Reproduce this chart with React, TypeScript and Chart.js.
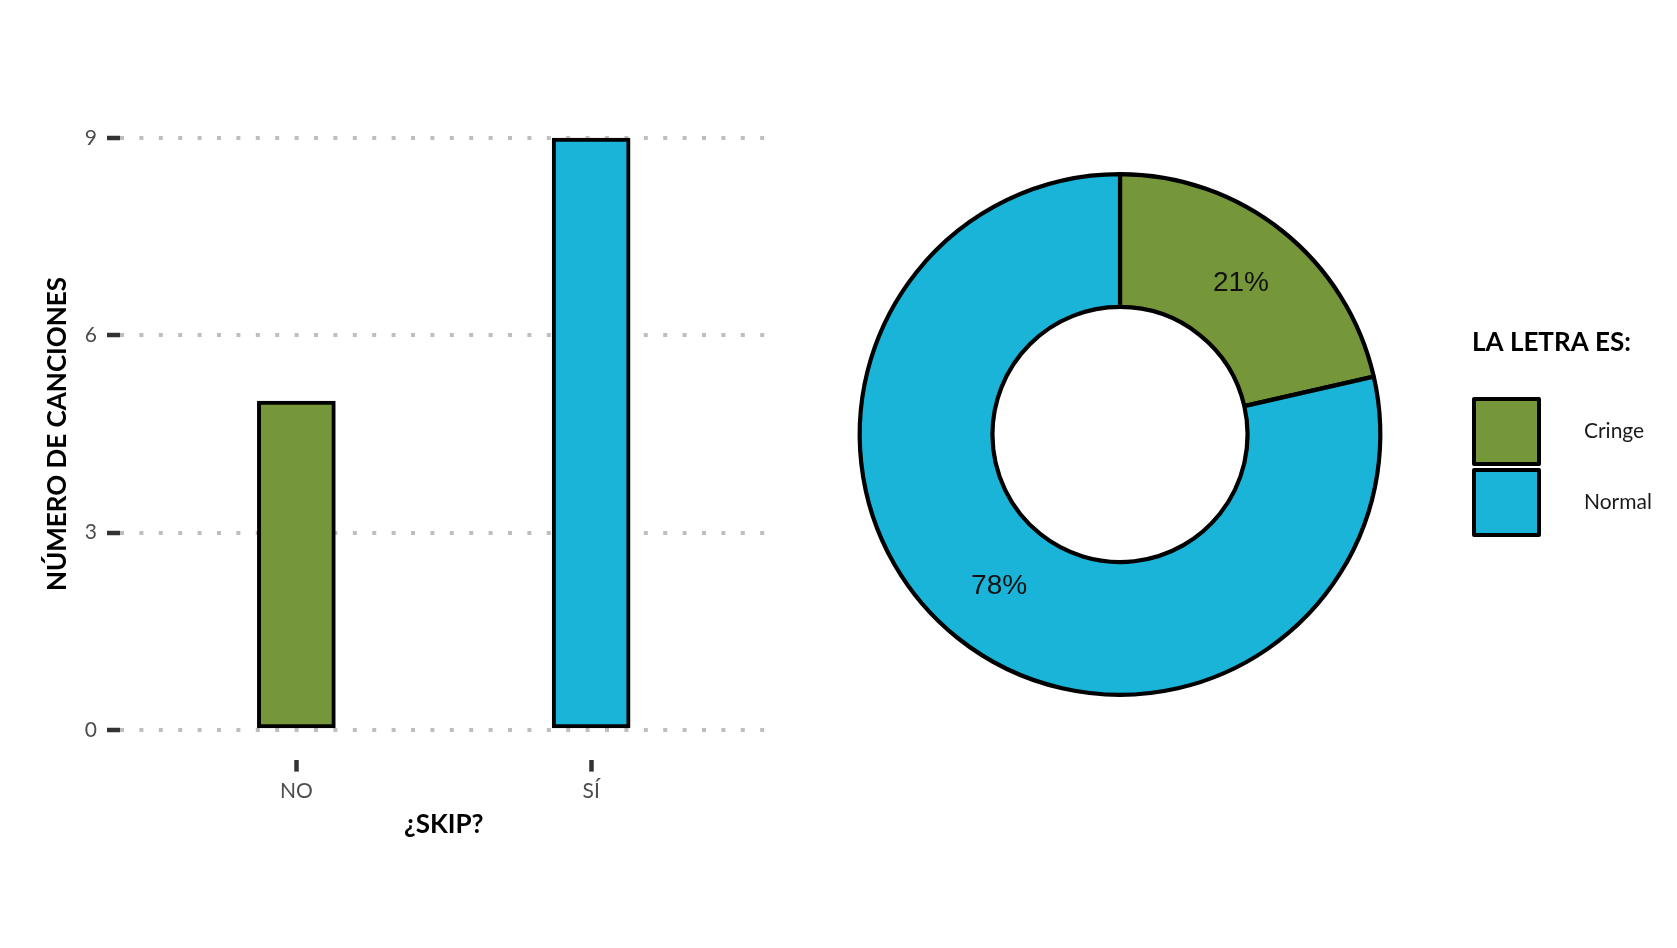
import { useEffect, useRef } from "react";
import { Chart, registerables } from "chart.js";

Chart.register(...registerables);

// ---- data ----
const skipCategories = ["NO", "SÍ"];
const songCounts = [5, 9];
const yTickValues = [0, 3, 6, 9];
const lyricLabels = ["Cringe", "Normal"];
const lyricCounts = [3, 11];
const legendTitle = "LA LETRA ES:";
const xTitle = "¿SKIP?";
const yTitle = "NÚMERO DE CANCIONES";

const GREEN = "#76963a";
const BLUE = "#1ab4d9";
const barColors = [GREEN, BLUE];
const lyricColors = [GREEN, BLUE];

const DONUT_LEFT = 800;

export default function App() {
  const barRef = useRef<HTMLCanvasElement>(null);
  const donutRef = useRef<HTMLCanvasElement>(null);

  useEffect(() => {
    const bar = new Chart(barRef.current!, {
      type: "bar",
      data: {
        datasets: [
          {
            data: songCounts.map((v, i) => ({ x: i + 1, y: v })),
            backgroundColor: barColors,
            borderColor: "#000",
            borderWidth: 4,
            borderSkipped: false,
            barThickness: 78,
          } as any,
        ],
      },
      options: {
        responsive: false,
        animation: false,
        layout: { padding: { top: 108.4, right: 32, bottom: 0, left: 0 } },
        plugins: { legend: { display: false }, tooltip: { enabled: false } },
        scales: {
          x: {
            type: "linear",
            offset: false,
            min: 0.4,
            max: 2.6,
            afterBuildTicks: (s: any) => {
              s.ticks = skipCategories.map((_, i) => ({ value: i + 1 }));
            },
            afterFit: (s: any) => {
              s.height = 188.4;
            },
            grid: {
              offset: false,
              drawOnChartArea: false,
              drawTicks: true,
              tickLength: 12,
              tickWidth: 4.5,
              tickColor: "#333333",
            },
            border: { display: false },
            ticks: {
              padding: 7,
              color: "#4d4d4d",
              font: { family: "Lato", size: 21 },
              maxRotation: 0,
              autoSkip: false,
              callback: (v: any) => skipCategories[Number(v) - 1] ?? "",
            },
            title: {
              display: true,
              text: xTitle,
              color: "#000",
              font: { family: "Lato", size: 26, weight: "bold" },
              padding: { top: 0, bottom: 107.4 },
            },
          },
          y: {
            type: "linear",
            min: -0.45,
            max: 9.45,
            afterBuildTicks: (s: any) => {
              s.ticks = yTickValues.map((v) => ({ value: v }));
            },
            afterFit: (s: any) => {
              s.width = 119.5;
            },
            grid: {
              color: "#bebebe",
              lineWidth: 4,
              tickLength: 12.5,
              tickWidth: 4.5,
              tickColor: "#333333",
              tickBorderDash: [],
            },
            border: { display: false, dash: [4, 15.4] },
            ticks: {
              padding: 10,
              color: "#4d4d4d",
              font: { family: "Lato", size: 21 },
            },
            title: {
              display: true,
              text: yTitle,
              color: "#000",
              font: { family: "Lato", size: 26, weight: "bold" },
              padding: { top: 42, bottom: 0 },
            },
          },
        },
      } as any,
    });

    const total = lyricCounts.reduce((a, b) => a + b, 0);

    const labelPlugin = {
      id: "arcLabels",
      afterDatasetsDraw(chart: any) {
        const ctx = chart.ctx;
        const meta = chart.getDatasetMeta(0);
        ctx.save();
        ctx.font = "28px 'Liberation Sans', Arial, sans-serif";
        ctx.fillStyle = "#111";
        ctx.textAlign = "center";
        ctx.textBaseline = "middle";
        meta.data.forEach((arc: any, i: number) => {
          const p = arc.getCenterPoint();
          const pct = Math.floor((lyricCounts[i] * 100) / total);
          ctx.fillText(pct + "%", p.x, p.y);
        });
        ctx.restore();
      },
    };

    const legendPlugin = {
      id: "customLegend",
      afterDraw(chart: any) {
        const ctx = chart.ctx;
        const x0 = 1472 - DONUT_LEFT;
        ctx.save();
        ctx.fillStyle = "#000";
        ctx.textAlign = "left";
        ctx.textBaseline = "middle";
        ctx.font = "bold 26px Lato";
        ctx.fillText(legendTitle, x0, 343);
        const labels = chart.data.labels as string[];
        const colors = chart.data.datasets[0].backgroundColor as string[];
        labels.forEach((lab, i) => {
          const top = 397 + i * 71;
          ctx.fillStyle = colors[i];
          ctx.fillRect(x0 + 2, top + 2, 65, 65);
          ctx.lineWidth = 4;
          ctx.lineJoin = "round";
          ctx.strokeStyle = "#000";
          ctx.strokeRect(x0 + 2, top + 2, 65, 65);
          ctx.fillStyle = "#1a1a1a";
          ctx.font = "21px Lato";
          ctx.fillText(lab, 1584 - DONUT_LEFT, top + 34.5);
        });
        ctx.restore();
      },
    };

    const donut = new Chart(donutRef.current!, {
      type: "doughnut",
      data: {
        labels: lyricLabels,
        datasets: [
          {
            data: lyricCounts,
            backgroundColor: lyricColors,
            borderColor: "#000",
            borderWidth: 4.2,
          },
        ],
      },
      options: {
        responsive: false,
        animation: false,
        radius: 260.3,
        cutout: "49%",
        layout: { padding: { top: 0, bottom: 79, left: 38, right: 275 } },
        plugins: { legend: { display: false }, tooltip: { enabled: false } },
      } as any,
      plugins: [labelPlugin, legendPlugin],
    });

    return () => {
      bar.destroy();
      donut.destroy();
    };
  }, []);

  return (
    <div
      style={{
        position: "fixed",
        left: 0,
        top: 0,
        width: 1677,
        height: 948,
        background: "#fff",
      }}
    >
      <canvas
        ref={barRef}
        width={800}
        height={948}
        style={{ position: "absolute", left: 0, top: 0 }}
      />
      <canvas
        ref={donutRef}
        width={877}
        height={948}
        style={{ position: "absolute", left: DONUT_LEFT, top: 0 }}
      />
    </div>
  );
}
